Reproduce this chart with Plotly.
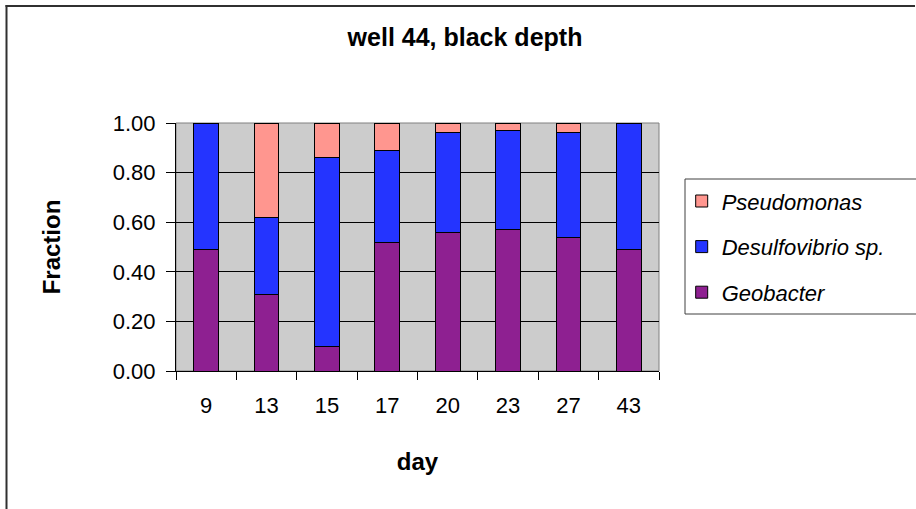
import plotly.graph_objects as go

days = ["9", "13", "15", "17", "20", "23", "27", "43"]
geobacter = [0.49, 0.31, 0.10, 0.52, 0.56, 0.57, 0.54, 0.49]
desulfovibrio = [0.51, 0.31, 0.76, 0.37, 0.40, 0.40, 0.42, 0.51]
pseudomonas = [0.00, 0.38, 0.14, 0.11, 0.04, 0.03, 0.04, 0.00]
y_ticks = [0.0, 0.2, 0.4, 0.6, 0.8, 1.0]

W, H = 916, 509
L, R, T, B = 176, 257, 123, 138
PW, PH = W - L - R, H - T - B

def px(x):
    return (x - L) / PW

def py(y):
    return (H - B - y) / PH

FONT = "Liberation Sans, Arial, sans-serif"

fig = go.Figure()
series = [
    ("Geobacter", geobacter, "#8E2091", 3),
    ("Desulfovibrio sp.", desulfovibrio, "#2434FF", 2),
    ("Pseudomonas", pseudomonas, "#FF968F", 1),
]
for name, vals, col, rank in series:
    fig.add_trace(go.Bar(
        x=days, y=vals, name=name, legendgroup=name, legendrank=rank,
        marker=dict(color=col, line=dict(color="black", width=1)),
    ))

fig.update_layout(
    width=W, height=H,
    margin=dict(l=L, r=R, t=T, b=B, autoexpand=False),
    barmode="stack", bargap=0.59,
    paper_bgcolor="white", plot_bgcolor="#CCCCCC",
    font=dict(family=FONT, color="black", size=22),
    title=dict(text="<b>well 44, black depth</b>", x=465 / W, xanchor="center",
               y=1 - 37 / H, yanchor="middle", font=dict(size=25, family=FONT)),
    showlegend=True,
    legend=dict(
        x=px(681.7), xanchor="left", y=py(246.7), yanchor="middle",
        traceorder="grouped", tracegroupgap=14,
        font=dict(size=22, style="italic", family=FONT),
        bgcolor="rgba(0,0,0,0)", borderwidth=0,
    ),
    xaxis=dict(
        type="category", tickson="boundaries", ticks="outside", ticklen=8,
        tickcolor="black", showline=True, linecolor="black", linewidth=1,
        showgrid=False, ticklabelstandoff=15,
        title=dict(text="<b>day</b>", font=dict(size=24), standoff=35),
    ),
    yaxis=dict(
        range=[0, 1], tickvals=y_ticks, tickformat=".2f", ticks="outside",
        ticklen=9, tickcolor="black", showline=True, linecolor="black",
        linewidth=1, showgrid=True, gridcolor="black", gridwidth=1,
        zeroline=False, ticklabelstandoff=6,
        title=dict(text="<b>Fraction</b>", font=dict(size=24), standoff=45),
    ),
    shapes=[
        dict(type="rect", xref="paper", yref="paper", x0=0, x1=1, y0=0, y1=1,
             line=dict(color="#808080", width=1), layer="below"),
        dict(type="rect", xref="paper", yref="paper", x0=px(685), x1=px(960),
             y0=py(314), y1=py(179), line=dict(color="#404040", width=1),
             fillcolor="white", layer="below"),
        dict(type="line", xref="paper", yref="paper", x0=px(6.5), x1=px(6.5),
             y0=py(520), y1=py(5), line=dict(color="#303030", width=2),
             layer="above"),
        dict(type="line", xref="paper", yref="paper", x0=px(5.5), x1=px(915),
             y0=py(6), y1=py(6), line=dict(color="#303030", width=2),
             layer="above"),
    ],
)

fig.write_html("out.html", config={"displayModeBar": False},
               post_script="document.body.style.margin='0';")
